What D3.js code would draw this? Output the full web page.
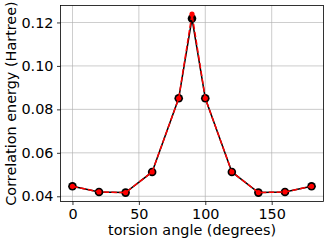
<!DOCTYPE html>
<html><head><meta charset="utf-8">
<script src="https://cdn.jsdelivr.net/npm/d3@7"></script>
<style>body{margin:0;background:#fff}svg{display:block}text{font-family:"DejaVu Sans",sans-serif}</style>
</head><body><svg id="c" width="329" height="244"></svg>
<script>
const angles = [0,20,40,60,80,90,100,120,140,160,180];
const seriesBlack = [0.0446,0.0420,0.0417,0.0512,0.0851,0.1218,0.0851,0.0512,0.0417,0.0420,0.0446];
const seriesRed = [0.0446,0.0420,0.0417,0.0512,0.0851,0.1238,0.0851,0.0512,0.0417,0.0420,0.0446];
const xTicks = [0,50,100,150];
const yTicks = [0.04,0.06,0.08,0.10,0.12];
const xLabel = "torsion angle (degrees)";
const yLabel = "Correlation energy (Hartree)";

const svg = d3.select("#c");
const L=60.5,R=323.5,T=5.5,B=201.5;
const x = d3.scaleLinear().domain([-9,189]).range([L,R]);
const y = d3.scaleLinear().domain([0.0376,0.1278]).range([B,T]);

const g = svg.append("g");
// grid
g.selectAll(".gx").data(xTicks).join("line").attr("x1",d=>x(d)).attr("x2",d=>x(d)).attr("y1",T).attr("y2",B).attr("stroke","#b0b0b0").attr("stroke-width",0.8).attr("opacity",0.8);
g.selectAll(".gy").data(yTicks).join("line").attr("y1",d=>y(d)).attr("y2",d=>y(d)).attr("x1",L).attr("x2",R).attr("stroke","#b0b0b0").attr("stroke-width",0.8).attr("opacity",0.8);

const xa = svg.append("g").attr("transform",`translate(0,${B})`).call(d3.axisBottom(x).tickValues(xTicks).tickSize(3.5).tickPadding(3.5).tickFormat(d3.format("d")));
const ya = svg.append("g").attr("transform",`translate(${L},0)`).call(d3.axisLeft(y).tickValues(yTicks).tickSize(3.5).tickPadding(3.5).tickFormat(d3.format(".2f")));
[xa,ya].forEach(a=>{a.select(".domain").remove();a.selectAll("text").attr("font-size",14.4).attr("fill","#000").attr("font-family","DejaVu Sans");a.selectAll("line").attr("stroke","#000").attr("stroke-width",0.8);});
svg.append("rect").attr("x",L).attr("y",T).attr("width",R-L).attr("height",B-T).attr("fill","none").attr("stroke","#000").attr("stroke-width",0.8);

const line = d3.line().x((d,i)=>x(angles[i])).y(d=>y(d));
svg.append("path").datum(seriesBlack).attr("d",line).attr("fill","none").attr("stroke","#000").attr("stroke-width",1.5);
svg.selectAll(".mb").data(seriesBlack).join("circle").attr("cx",(d,i)=>x(angles[i])).attr("cy",d=>y(d)).attr("r",4.3).attr("fill","#000");
svg.append("path").datum(seriesRed).attr("d",line).attr("fill","none").attr("stroke","#ff0000").attr("stroke-width",1.5).attr("stroke-dasharray","5.5,2.4");
svg.selectAll(".mr").data(seriesRed).join("circle").attr("cx",(d,i)=>x(angles[i])).attr("cy",d=>y(d)).attr("r",2.6).attr("fill","#ff0000");

svg.append("text").attr("x",(L+R)/2).attr("y",235).attr("text-anchor","middle").attr("font-size",14.4).text(xLabel);
svg.append("text").attr("transform",`translate(16,${(T+B)/2}) rotate(-90)`).attr("text-anchor","middle").attr("font-size",14.4).text(yLabel);
</script></body></html>
